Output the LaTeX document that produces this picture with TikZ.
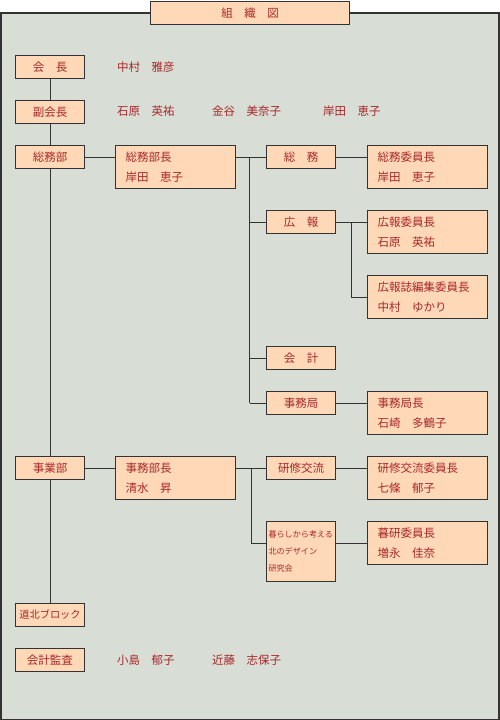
\documentclass[tikz,border=0pt]{standalone}
\usepackage{fontspec}
\setmainfont{Noto Sans CJK JP}
\definecolor{framebg}{RGB}{216,221,214}
\definecolor{boxfill}{RGB}{255,216,184}
\definecolor{textred}{RGB}{168,40,40}
\definecolor{edgegray}{RGB}{51,51,51}

\begin{document}
\begin{tikzpicture}[x=1pt,y=-1pt,
    orgbox/.style={draw=edgegray, fill=boxfill, line width=1pt, anchor=north west,
        minimum width=69pt, minimum height=23pt, inner sep=0pt, text=textred,
        font=\fontsize{11.5}{14}\selectfont},
    memberbox/.style={orgbox, minimum width=120pt, minimum height=43pt, inner xsep=10pt,
        text width=100pt, align=left, font=\fontsize{11.5}{19.5}\selectfont},
    namelabel/.style={anchor=west, inner sep=0pt, text=textred, font=\fontsize{11.5}{14}\selectfont},
    link/.style={draw=edgegray, line width=1pt}]
    \useasboundingbox (0,0) rectangle (500,720);

    % we draw the frame and its title
    \draw[fill=framebg, draw=edgegray, line width=1.5pt] (0.75,13) rectangle (498.75,719.25);
    \node[orgbox, minimum width=199pt, minimum height=23.5pt] (title) at (150,0.5) {組　織　図};

    % we draw the left column
    \node[orgbox] (kaicho) at (15,55) {会　長};
    \node[orgbox] (fukukaicho) at (15,100) {副会長};
    \node[orgbox] (somubu) at (15,145) {総務部};
    \node[orgbox] (jigyobu) at (15,456) {事業部};
    \node[orgbox, font=\fontsize{10.2}{14}\selectfont] (dohoku) at (15,603) {道北ブロック};
    \node[orgbox] (kansa) at (15,648) {会計監査};

    % we add the names beside the officers
    \node[namelabel] (kaichoname) at (117,67) {中村　雅彦};
    \node[namelabel] (fukuname1) at (117,111.5) {石原　英祐};
    \node[namelabel] (fukuname2) at (212,111.5) {金谷　美奈子};
    \node[namelabel] (fukuname3) at (323,111.5) {岸田　恵子};
    \node[namelabel] (kansaname1) at (117,660) {小島　郁子};
    \node[namelabel] (kansaname2) at (212,660) {近藤　志保子};

    % we draw the heads of the two departments
    \node[memberbox] (somubucho) at (115,145) {総務部長\\岸田　恵子};
    \node[memberbox] (jimubucho) at (115,456) {事務部長\\清水　昇};

    % we draw the sections
    \node[orgbox] (somu) at (266,145) {総　務};
    \node[orgbox] (koho) at (266,210) {広　報};
    \node[orgbox] (kaikei) at (266,346) {会　計};
    \node[orgbox] (jimukyoku) at (266,391) {事務局};
    \node[orgbox] (kenshu) at (266,456) {研修交流};
    \node[orgbox, minimum height=60pt, inner xsep=2pt, text width=65pt, align=left,
        font=\fontsize{8.1}{17}\selectfont] (kurashi) at (266,521) {暮らしから考える\\北のデザイン\\研究会};

    % we draw the committee heads
    \node[memberbox] (somuiin) at (367,145) {総務委員長\\岸田　恵子};
    \node[memberbox] (kohoiin) at (367,210) {広報委員長\\石原　英祐};
    \node[memberbox] (kohoshi) at (367,275) {広報誌編集委員長\\中村　ゆかり};
    \node[memberbox] (jimukyokucho) at (367,391) {事務局長\\石崎　多鶴子};
    \node[memberbox] (kenshuiin) at (367,456) {研修交流委員長\\七條　郁子};
    \node[memberbox] (kureniin) at (367,521) {暮研委員長\\増永　佳奈};

    % we draw the connectors
    \coordinate (somutrunk) at (249.5,0);
    \coordinate (kohotrunk) at (351,0);
    \coordinate (jigyotrunk) at (251.5,0);
    \draw[link] (kaicho.south) -- (fukukaicho.north);
    \draw[link] (fukukaicho.south) -- (somubu.north);
    \draw[link] (somubu.south) -- (jigyobu.north);
    \draw[link] (jigyobu.south) -- (dohoku.north);
    \draw[link] (somubu.east) -- (somubu.east -| somubucho.west);
    \draw[link] (somu.west -| somubucho.east) -- (somu.west);
    \draw[link] (somutrunk |- somu.west) -- (somutrunk |- jimukyoku.west);
    \draw[link] (somutrunk |- koho.west) -- (koho.west);
    \draw[link] (somutrunk |- kaikei.west) -- (kaikei.west);
    \draw[link] (somutrunk |- jimukyoku.west) -- (jimukyoku.west);
    \draw[link] (somu.east) -- (somu.east -| somuiin.west);
    \draw[link] (koho.east) -- (koho.east -| kohoiin.west);
    \draw[link] (kohotrunk |- koho.east) -- (kohotrunk |- kohoshi.west) -- (kohoshi.west);
    \draw[link] (jimukyoku.east) -- (jimukyoku.east -| jimukyokucho.west);
    \draw[link] (jigyobu.east) -- (jigyobu.east -| jimubucho.west);
    \draw[link] (kenshu.west -| jimubucho.east) -- (kenshu.west);
    \draw[link] (jigyotrunk |- kenshu.west) -- (jigyotrunk |- kureniin.west) -- (kurashi.west |- kureniin.west);
    \draw[link] (kenshu.east) -- (kenshu.east -| kenshuiin.west);
    \draw[link] (kurashi.east |- kureniin.west) -- (kureniin.west);
\end{tikzpicture}
\end{document}
